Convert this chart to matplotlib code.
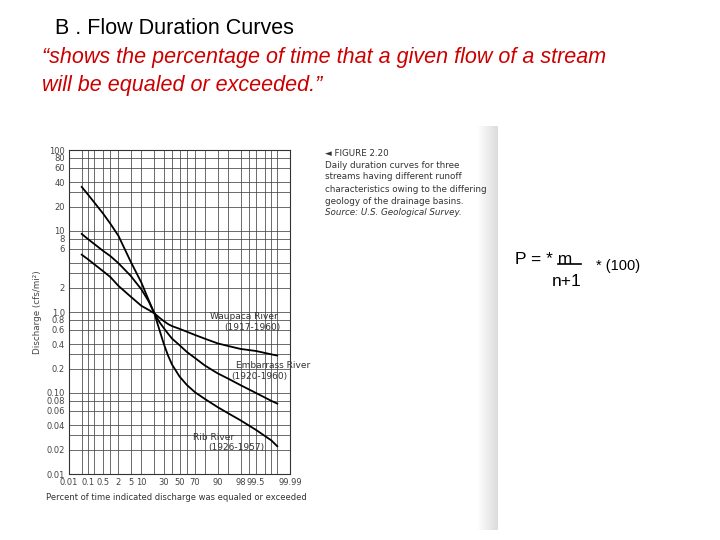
import matplotlib.pyplot as plt
from matplotlib.lines import Line2D
import numpy as np
from statistics import NormalDist

# percent of time exceeded and discharge (cfs/mi2)
pct = [0.05, 0.1, 0.5, 1, 2, 5, 10, 15, 20, 25, 30, 35, 40, 50, 60, 70, 80, 90, 95, 98, 99.5, 99.9, 99.95]
waupaca = [5.1, 4.5, 3.2, 2.7, 2.1, 1.55, 1.19, 1.06, 0.96, 0.85, 0.77, 0.71, 0.67, 0.62, 0.57, 0.52,
           0.47, 0.41, 0.38, 0.35, 0.33, 0.30, 0.29]
embarrass = [9.2, 8.0, 5.7, 4.9, 4.0, 2.8, 1.9, 1.35, 0.96, 0.75, 0.63, 0.54, 0.47, 0.39, 0.32, 0.27,
             0.22, 0.175, 0.15, 0.125, 0.10, 0.08, 0.074]
rib = [35, 28.5, 16.5, 12.3, 8.7, 4.2, 2.3, 1.4, 0.95, 0.6, 0.4, 0.29, 0.225, 0.16, 0.125, 0.102,
       0.085, 0.067, 0.056, 0.046, 0.035, 0.026, 0.022]

xticks = [0.01, 0.1, 0.5, 2, 5, 10, 30, 50, 70, 90, 98, 99.5, 99.99]
xgrid = [0.01, 0.05, 0.1, 0.2, 0.5, 1, 2, 5, 10, 20, 30, 40, 50, 60, 70, 80, 90, 95, 98, 99, 99.5, 99.8, 99.9, 99.95, 99.99]
yticks = [100, 80, 60, 40, 20, 10, 8, 6, 2, 1.0, 0.8, 0.6, 0.4, 0.2, 0.1, 0.08, 0.06, 0.04, 0.02, 0.01]
ylabels = ["100", "80", "60", "40", "20", "10", "8", "6", "2", "1.0", "0.8", "0.6", "0.4", "0.2",
           "0.10", "0.08", "0.06", "0.04", "0.02", "0.01"]
ygrid = [m * 10.0 ** e for e in range(-2, 2) for m in (1, 2, 3, 4, 6, 8)] + [100]

caption = ["\u25c4 FIGURE 2.20",
           "Daily duration curves for three",
           "streams having different runoff",
           "characteristics owing to the differing",
           "geology of the drainage basins."]

nd = NormalDist()
fwd = np.vectorize(lambda p: nd.inv_cdf(min(max(p / 100.0, 1e-9), 1 - 1e-9)), otypes=[float])
inv = np.vectorize(lambda z: nd.cdf(z) * 100.0, otypes=[float])

W, H = 720, 540
fig = plt.figure(figsize=(7.2, 5.4), dpi=100)


def fx(px):
    return px / W


def fy(py):
    return 1 - py / H


# book page shadow strip on the right of the scan
grad = fig.add_axes([fx(477), fy(530), fx(21), 404 / H])
g = np.linspace(1.0, 0.86, 50)
grad.imshow(np.tile(g, (10, 1)), cmap="gray", vmin=0, vmax=1, aspect="auto")
grad.axis("off")

ax = fig.add_axes([fx(69), fy(474), fx(221), 324 / H])
ax.set_xscale("function", functions=(fwd, inv))
ax.set_yscale("log")
ax.set_xlim(0.01, 99.99)
ax.set_ylim(0.01, 100)

for p in xgrid:
    ax.axvline(p, color="#444444", lw=0.55, zorder=1)
for v in ygrid:
    ax.axhline(v, color="#444444", lw=0.55, zorder=1)

for series in (waupaca, embarrass, rib):
    ax.plot(pct, series, color="black", lw=1.3, zorder=3)

ax.set_xticks(xticks)
ax.set_xticklabels([f"{t:g}" for t in xticks])
ax.set_yticks(yticks)
ax.set_yticklabels(ylabels)
ax.minorticks_off()
ax.tick_params(length=0, pad=3, labelsize=6, labelcolor="#444444")
for s in ax.spines.values():
    s.set_color("#333333")
    s.set_linewidth(0.8)

lab = dict(fontsize=6.5, color="#333333", transform=ax.transAxes, va="center")
ax.text(0.638, 0.485, "Waupaca River", ha="left", **lab)
ax.text(0.955, 0.451, "(1917-1960)", ha="right", **lab)
ax.text(0.756, 0.336, "Embarrass River", ha="left", **lab)
ax.text(0.99, 0.302, "(1920-1960)", ha="right", **lab)
ax.text(0.561, 0.114, "Rib River", ha="left", **lab)
ax.text(0.882, 0.083, "(1926-1957)", ha="right", **lab)

fig.text(fx(37), fy(312), "Discharge (cfs/mi\u00b2)", rotation=90, ha="center", va="center",
         fontsize=6.3, color="#444444")
fig.text(fx(176), fy(497), "Percent of time indicated discharge was equaled or exceeded",
         ha="center", va="center", fontsize=6.0, color="#333333")

# caption of the scanned figure
for i, line in enumerate(caption):
    fig.text(fx(325), fy(153 + 12 * i), line, ha="left", va="center", fontsize=6.3, color="#333333")
fig.text(fx(325), fy(213), "Source: U.S. Geological Survey.", ha="left", va="center",
         fontsize=6.3, color="#333333", style="italic")

# slide texts
fig.text(fx(55), fy(28), "B . Flow Duration Curves", ha="left", va="center",
         fontsize=15.5, family="Liberation Sans", color="black")
fig.text(fx(42), fy(57), "\u201cshows the percentage of time that a given flow of a stream",
         ha="left", va="center", fontsize=15.5, family="Liberation Sans", style="italic", color="#cc0000")
fig.text(fx(42), fy(86), "will be equaled or exceeded.\u201d",
         ha="left", va="center", fontsize=15.5, family="Liberation Sans", style="italic", color="#cc0000")

fig.text(fx(515), fy(259), "P = * m", ha="left", va="center", fontsize=12.5, family="Liberation Sans")
fig.add_artist(Line2D([fx(558), fx(581)], [fy(264), fy(264)], color="black", lw=1.2))
fig.text(fx(552), fy(281), "n+1", ha="left", va="center", fontsize=12.5, family="Liberation Sans")
fig.text(fx(596), fy(266), "* (100)", ha="left", va="center", fontsize=10.5, family="Liberation Sans")

fig.savefig("out.png", dpi=100)
